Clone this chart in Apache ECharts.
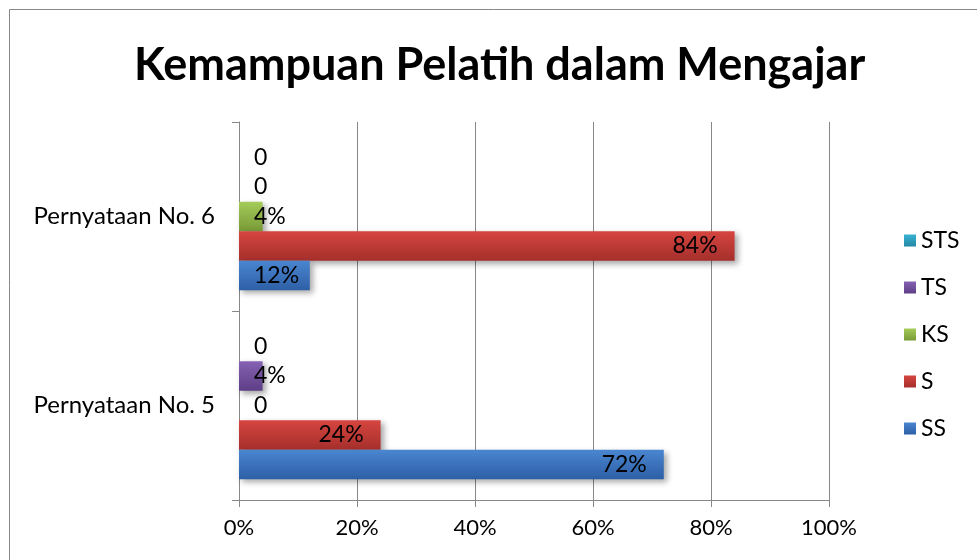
<!DOCTYPE html>
<html>
<head>
<meta charset="utf-8">
<script src="https://cdn.jsdelivr.net/npm/echarts@6/dist/echarts.min.js"></script>
<style>
  html, body { margin: 0; padding: 0; background: #fff; }
  #chart { width: 977px; height: 560px; }
</style>
</head>
<body>
<div id="chart"></div>
<script>
  // data (percent)
  const categories = ['Pernyataan No. 5', 'Pernyataan No. 6']
  const legendOrder = ['STS', 'TS', 'KS', 'S', 'SS']
  const ssValues = [72, 12]
  const sValues = [24, 84]
  const ksValues = [0, 4]
  const tsValues = [4, 0]
  const stsValues = [0, 0]
  const xTicks = [0, 20, 40, 60, 80, 100]

  const FONT = 'Lato'
  const colors = {
    SS: ['#4a86d0', '#2d5fa6'],
    S: ['#d6453f', '#a52f2c'],
    KS: ['#a5cb58', '#789a37'],
    TS: ['#8662b2', '#5d3e86'],
    STS: ['#38b3d3', '#2487a4']
  }

  function grad(c) {
    return new echarts.graphic.LinearGradient(0, 0, 0, 1, [
      { offset: 0, color: c[0] },
      { offset: 1, color: c[1] }
    ])
  }

  function makeSeries(name, vals) {
    return {
      name: name,
      type: 'bar',
      barGap: '0%',
      barCategoryGap: '22%',
      data: vals.map(v => ({
        value: v,
        label: v >= 20
          ? { position: 'insideRight', distance: 17 }
          : { position: 'insideLeft', distance: 15 }
      })),
      itemStyle: {
        color: grad(colors[name]),
        shadowColor: 'rgba(0,0,0,0.35)',
        shadowBlur: 6,
        shadowOffsetX: 3,
        shadowOffsetY: 3
      },
      label: {
        show: true,
        color: '#000',
        fontFamily: FONT,
        fontSize: 23,
        formatter: p => p.value === 0 ? '0' : p.value + '%'
      }
    }
  }

  const chart = echarts.init(document.getElementById('chart'))
  chart.setOption({
    animation: false,
    title: {
      text: 'Kemampuan Pelatih dalam Mengajar',
      left: 129,
      top: 38,
      textStyle: { fontFamily: FONT, fontSize: 45, fontWeight: 'bold', color: '#000' }
    },
    graphic: [{
      type: 'rect',
      shape: { x: 9.5, y: 9.5, width: 1000, height: 600 },
      style: { fill: 'none', stroke: '#888', lineWidth: 1 },
      silent: true
    }],
    legend: {
      orient: 'vertical',
      left: 899,
      top: 224,
      icon: 'rect',
      itemWidth: 12,
      itemHeight: 12,
      itemGap: 24,
      data: legendOrder,
      textStyle: { fontFamily: FONT, fontSize: 23, color: '#000' }
    },
    grid: { left: 239, right: 148, top: 122, bottom: 60 },
    xAxis: {
      type: 'value',
      min: 0,
      max: 100,
      interval: 20,
      axisLine: { show: true, lineStyle: { color: '#888' } },
      axisTick: { show: true, length: 7, lineStyle: { color: '#888' } },
      splitLine: { show: true, lineStyle: { color: '#888' } },
      axisLabel: {
        margin: 17,
        color: '#000',
        fontFamily: FONT,
        fontSize: 22,
        formatter: v => xTicks.includes(v) ? v + '%' : ''
      }
    },
    yAxis: {
      type: 'category',
      data: categories,
      axisLine: { show: true, lineStyle: { color: '#888' } },
      axisTick: { show: true, length: 7, lineStyle: { color: '#888' } },
      axisLabel: { margin: 24, color: '#000', fontFamily: FONT, fontSize: 24 }
    },
    // first series is drawn at the top of each band, so list from STS down to SS
    series: [
      makeSeries('STS', stsValues),
      makeSeries('TS', tsValues),
      makeSeries('KS', ksValues),
      makeSeries('S', sValues),
      makeSeries('SS', ssValues)
    ]
  })
</script>
</body>
</html>
